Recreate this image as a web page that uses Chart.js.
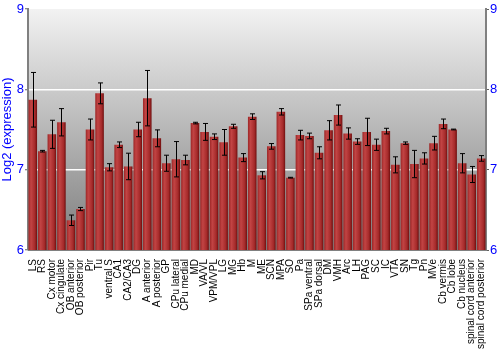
<!DOCTYPE html>
<html>
<head>
<meta charset="utf-8">
<script src="https://cdn.jsdelivr.net/npm/chart.js@4.4.1/dist/chart.umd.min.js"></script>
<style>
  html, body { margin: 0; padding: 0; background: #fff; }
  #wrap { width: 500px; height: 350px; }
</style>
</head>
<body>
<div id="wrap"><canvas id="grafico" width="500" height="350"></canvas></div>
<script>
const regioes = ["LS", "RS", "Cx motor", "Cx cingulate", "OB anterior", "OB posterior", "Pir", "Tu",
  "ventral S", "CA1", "CA2/CA3", "DG", "A anterior", "A posterior", "GP", "CPu lateral", "CPu medial",
  "MD", "VA/VL", "VPM/VPL", "LG", "MG", "Hb", "M", "ME", "SCN", "MPA", "SO", "Pa", "SPa ventral",
  "SPa dorsal", "DM", "VMH", "Arc", "LH", "PAG", "SC", "IC", "VTA", "SN", "Tg", "Pn", "MVe",
  "Cb vermis", "Cb lobe", "Cb nucleus", "spinal cord anterior", "spinal cord posterior"];

const expressao = [7.87, 7.23, 7.44, 7.59, 6.37, 6.51, 7.50, 7.95,
  7.03, 7.31, 7.04, 7.50, 7.89, 7.39, 7.08, 7.13, 7.12,
  7.58, 7.47, 7.41, 7.34, 7.54, 7.15, 7.66, 6.93, 7.29, 7.72, 6.90, 7.43, 7.42,
  7.21, 7.49, 7.68, 7.45, 7.35, 7.47, 7.31, 7.48, 7.06, 7.33, 7.07, 7.14, 7.33,
  7.57, 7.50, 7.08, 6.94, 7.14];

const erro = [0.34, 0.01, 0.175, 0.17, 0.065, 0.02, 0.13, 0.13,
  0.045, 0.035, 0.165, 0.09, 0.345, 0.105, 0.1, 0.22, 0.06,
  0.01, 0.105, 0.035, 0.16, 0.025, 0.05, 0.035, 0.045, 0.035, 0.04, 0.005, 0.06, 0.035,
  0.075, 0.12, 0.125, 0.07, 0.035, 0.17, 0.07, 0.035, 0.1, 0.015, 0.17, 0.07, 0.085,
  0.06, 0.005, 0.12, 0.1, 0.035];

const ticksY = [6, 7, 8, 9];

const azul = "#0000ff";
const fonte = "'Liberation Sans', Arial, sans-serif";

// fundo em degrade da area do grafico
const fundoPlugin = {
  id: "fundo",
  beforeDraw(chart) {
    const { ctx, chartArea: a } = chart;
    const g = ctx.createLinearGradient(0, a.top, 0, a.bottom);
    g.addColorStop(0, "#f2f2f2");
    g.addColorStop(1, "#7c7c7c");
    ctx.save();
    ctx.fillStyle = g;
    ctx.fillRect(a.left, a.top, a.right - a.left, a.bottom - a.top);
    ctx.restore();
  }
};

// barras de erro
const erroPlugin = {
  id: "barrasErro",
  afterDatasetsDraw(chart) {
    const { ctx } = chart;
    const y = chart.scales.y;
    const meta = chart.getDatasetMeta(0);
    ctx.save();
    ctx.strokeStyle = "#000";
    ctx.lineWidth = 1;
    meta.data.forEach((bar, i) => {
      const x = Math.round(bar.x) + 0.5;
      const y1 = y.getPixelForValue(expressao[i] + erro[i]);
      const y2 = y.getPixelForValue(expressao[i] - erro[i]);
      ctx.beginPath();
      ctx.moveTo(x, y1);
      ctx.lineTo(x, y2);
      ctx.moveTo(x - 2.5, y1);
      ctx.lineTo(x + 2.5, y1);
      ctx.moveTo(x - 2.5, y2);
      ctx.lineTo(x + 2.5, y2);
      ctx.stroke();
    });
    ctx.restore();
  }
};

function corBarra(context) {
  const chart = context.chart;
  if (!chart.chartArea || !chart.scales.x) return "#a83232";
  const x = chart.scales.x.getPixelForValue(context.dataIndex);
  const w = 8.6;
  const g = chart.ctx.createLinearGradient(x - w / 2, 0, x + w / 2, 0);
  g.addColorStop(0, "#9c2626");
  g.addColorStop(0.3, "#c24444");
  g.addColorStop(0.75, "#a52a2a");
  g.addColorStop(1, "#6e0e0e");
  return g;
}

const ctx = document.getElementById("grafico").getContext("2d");

new Chart(ctx, {
  type: "bar",
  data: {
    labels: regioes,
    datasets: [{
      label: "Log2 (expression)",
      data: expressao.map(v => [6, v]),
      backgroundColor: corBarra,
      borderWidth: 0,
      categoryPercentage: 1,
      barPercentage: 0.9
    }]
  },
  options: {
    responsive: false,
    animation: false,
    layout: { padding: { top: 9, right: 0, left: 0, bottom: 0 } },
    plugins: {
      legend: { display: false },
      tooltip: { enabled: false }
    },
    scales: {
      x: {
        grid: { display: false },
        border: { color: "#808080", width: 1 },
        ticks: {
          autoSkip: false,
          minRotation: 90,
          maxRotation: 90,
          padding: 1,
          color: "#000",
          font: { family: fonte, size: 10 }
        },
        afterFit(s) { s.height = 100; }
      },
      y: {
        position: "left",
        min: 6,
        max: 9,
        afterBuildTicks(s) { s.ticks = ticksY.map(v => ({ value: v })); },
        grid: {
          color: ctx => (ctx.tick && (ctx.tick.value === 7 || ctx.tick.value === 8)) ? "#ffffff" : "rgba(0,0,0,0)",
          lineWidth: 1.5,
          drawTicks: true,
          tickLength: 3,
          tickColor: "#606060",
          tickWidth: 1
        },
        border: { color: "#808080", width: 2 },
        ticks: {
          color: azul,
          padding: 1,
          font: { family: fonte, size: 13 }
        },
        title: {
          display: true,
          text: "Log2 (expression)",
          color: azul,
          padding: { top: 0, bottom: 0 },
          font: { family: fonte, size: 13 }
        },
        afterFit(s) { s.width = 28; }
      },
      y2: {
        position: "right",
        min: 6,
        max: 9,
        afterBuildTicks(s) { s.ticks = ticksY.map(v => ({ value: v })); },
        grid: {
          display: true,
          drawOnChartArea: false,
          drawTicks: true,
          tickLength: 3,
          tickColor: "#606060",
          tickWidth: 1
        },
        border: { display: true, color: "#808080", width: 2 },
        ticks: {
          color: azul,
          padding: 1,
          font: { family: fonte, size: 13 }
        },
        afterFit(s) { s.width = 14; }
      }
    }
  },
  plugins: [fundoPlugin, erroPlugin]
});
</script>
</body>
</html>
